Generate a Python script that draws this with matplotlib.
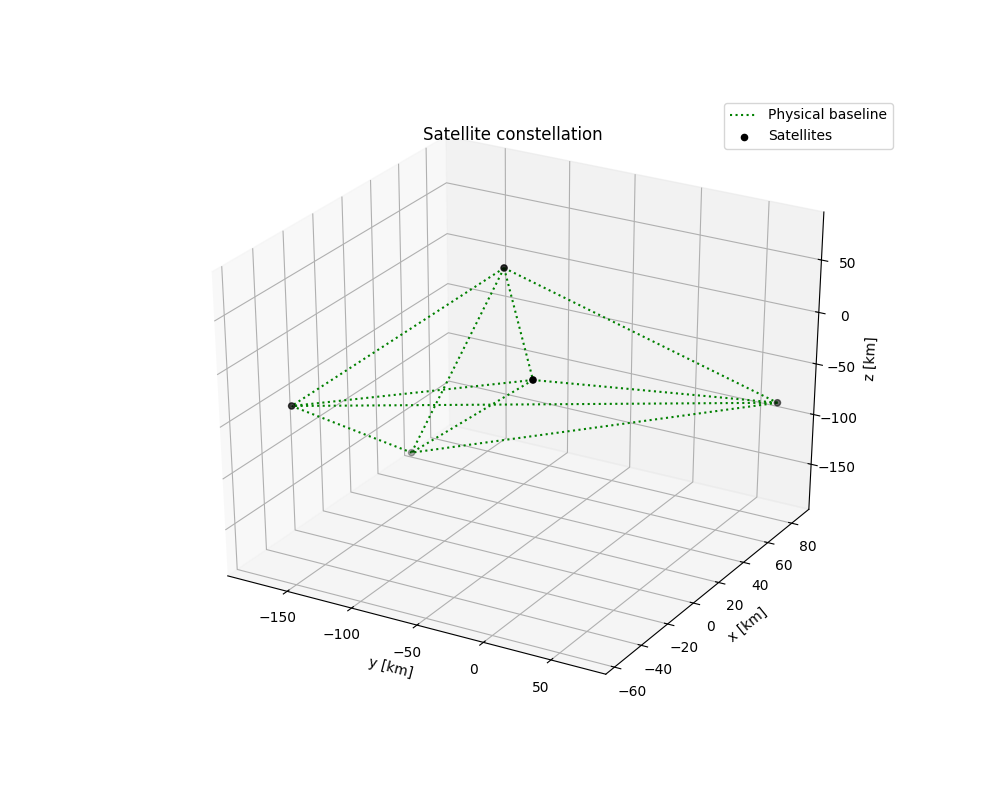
import matplotlib
matplotlib.use('Agg')
import matplotlib.pyplot as plt
from itertools import combinations

# satellite positions in km
sat_x = [-2.4, -60.4, 76.0, -50.0, 59.0]
sat_y = [-50.3, 30.3, 78.7, -160.0, -189.9]
sat_z = [85.0, 55.5, -74.7, -33.6, -190.0]

def main():
    fig = plt.figure(figsize=(10, 8))
    ax = fig.add_subplot(projection='3d')
    # keep the 3d box stretched over the whole axes rectangle
    ax.apply_aspect = lambda position=None: None
    ax.set_position([0.125, 0.11, 0.775, 0.77])
    ax.set_box_aspect((1, 1, 1), zoom=0.9467)

    label = 'Physical baseline'
    for i, j in combinations(range(len(sat_x)), 2):
        ax.plot([sat_y[i], sat_y[j]], [sat_x[i], sat_x[j]], [sat_z[i], sat_z[j]],
                'g:', label=label)
        label = None
    ax.scatter(sat_y, sat_x, sat_z, c='k', label='Satellites')

    ax.set_xlim(-196.8, 90)
    ax.set_ylim(-66.4, 94.6)
    ax.set_zlim(-196, 95)
    ax.set_title('Satellite constellation', y=0.995)
    ax.set_xlabel('y [km]')
    ax.set_ylabel('x [km]')
    ax.set_zlabel('z [km]')
    ax.legend(loc='upper right')
    fig.savefig('out.png', dpi=100)

if __name__ == '__main__':
    main()
